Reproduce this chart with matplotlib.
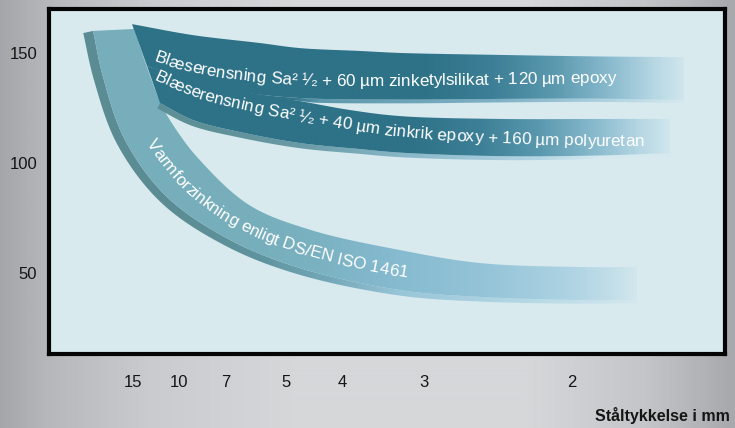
import numpy as np
import matplotlib
matplotlib.use("Agg")
import matplotlib.pyplot as plt
from matplotlib.colors import LinearSegmentedColormap
from matplotlib.patches import Polygon
from matplotlib.font_manager import FontProperties, findfont, get_font

FAMILIES = ["Liberation Sans", "DejaVu Sans"]
plt.rcParams["font.family"] = FAMILIES
DPI = 100

# ---------------------------------------------------------------- data
thickness_labels = ["15", "10", "7", "5", "4", "3", "2"]
thickness_pos = [12.47, 19.27, 26.08, 35.06, 43.39, 55.47, 77.32]
value_ticks = [50, 100, 150]

# Blæserensning + zinketylsilikat + epoxy (upper band)
epoxy_upper_x = [12.28, 21.30, 31.21, 37.13, 46.01, 51.92, 66.72, 81.51, 93.93]
epoxy_upper_y = [163.0, 158.0, 154.4, 152.1, 150.8, 149.9, 149.0, 148.3, 148.0]
epoxy_lower_x = [14.50, 20.86, 28.25, 37.13, 51.92, 66.72, 81.51, 93.93]
epoxy_lower_y = [144.0, 136.7, 132.1, 129.4, 128.7, 129.0, 129.1, 128.5]

# Blæserensning + zinkrik epoxy + polyuretan (middle band)
pur_upper_x = [14.50, 22.34, 29.73, 37.13, 44.53, 51.92, 66.72, 81.51, 91.86]
pur_upper_y = [144.0, 135.8, 131.7, 128.0, 123.95, 121.2, 119.9, 119.9, 119.9]
pur_lower_x = [16.42, 21.30, 28.25, 37.13, 46.01, 51.92, 66.72, 81.51, 91.86]
pur_lower_y = [127.1, 119.4, 113.95, 108.95, 106.2, 104.6, 103.0, 103.3, 104.4]

# Varmforzinkning (lower band)
zinc_upper_x = [12.57, 14.64, 16.57, 18.64, 22.04, 29.59, 38.76, 51.92, 63.76, 78.55, 86.98]
zinc_upper_y = [160.8, 142.1, 126.7, 115.8, 102.1, 80.8, 69.4, 60.3, 54.4, 52.6, 52.6]
zinc_lower_x = [6.51, 7.99, 11.24, 17.46, 26.78, 37.13, 51.92, 63.76, 78.55, 86.98]
zinc_lower_y = [159.9, 138.95, 110.3, 84.4, 64.9, 52.1, 42.1, 39.0, 37.6, 37.6]

label_epoxy = "Blæserensning Sa² ¹⁄₂ + 60 µm zinketylsilikat + 120 µm epoxy"
label_pur = "Blæserensning Sa² ¹⁄₂ + 40 µm zinkrik epoxy + 160 µm polyuretan"
label_zinc = "Varmforzinkning enligt DS/EN ISO 1461"
x_title = "Ståltykkelse i mm"

# ---------------------------------------------------------------- figure
fig = plt.figure(figsize=(7.35, 4.28), dpi=DPI)

bg_cmap = LinearSegmentedColormap.from_list(
    "bg", [(0.0, "#a5a6aa"), (0.06, "#b6b7bb"), (0.2, "#cacbce"), (0.4, "#d6d7d9"),
           (0.72, "#d6d7d9"), (0.88, "#c4c5c8"), (1.0, "#a8a9ad")])
bg_ax = fig.add_axes([0, 0, 1, 1], zorder=-10)
bg_ax.imshow(np.linspace(0, 1, 735)[None, :], cmap=bg_cmap, aspect="auto",
             extent=[0, 1, 0, 1])
bg_ax.axis("off")

ax = fig.add_axes([49 / 735, 74 / 428, 676 / 735, 345.5 / 428])
ax.set_facecolor("#d8eaee")
ax.set_xlim(0, 100)
ax.set_ylim(13.05, 170.1)
ax.set_autoscale_on(False)
for sp in ax.spines.values():
    sp.set_linewidth(3.0)
    sp.set_color("#050505")

ax.set_yticks(value_ticks)
ax.set_yticklabels([str(v) for v in value_ticks])
ax.set_xticks(thickness_pos)
ax.set_xticklabels(thickness_labels)
ax.tick_params(axis="y", length=0, pad=8.6, labelsize=12, labelcolor="#151515")
ax.tick_params(axis="x", length=0, pad=15, labelsize=12, labelcolor="#151515")

fig.text(730 / 735, 1 - 415 / 428, x_title, ha="right", va="center",
         fontsize=11.5, fontweight="bold", color="#151515")


# ---------------------------------------------------------------- helpers
def catmull(points, per_seg=40):
    P = np.asarray(points, float)
    ext = np.vstack([2 * P[0] - P[1], P, 2 * P[-1] - P[-2]])
    out = []
    for i in range(len(P) - 1):
        p0, p1, p2, p3 = ext[i], ext[i + 1], ext[i + 2], ext[i + 3]
        t0 = 0.0
        t1 = t0 + np.linalg.norm(p1 - p0) ** 0.5
        t2 = t1 + np.linalg.norm(p2 - p1) ** 0.5
        t3 = t2 + np.linalg.norm(p3 - p2) ** 0.5
        t = np.linspace(t1, t2, per_seg, endpoint=False)[:, None]
        A1 = (t1 - t) / (t1 - t0) * p0 + (t - t0) / (t1 - t0) * p1
        A2 = (t2 - t) / (t2 - t1) * p1 + (t - t1) / (t2 - t1) * p2
        A3 = (t3 - t) / (t3 - t2) * p2 + (t - t2) / (t3 - t2) * p3
        B1 = (t2 - t) / (t2 - t0) * A1 + (t - t0) / (t2 - t0) * A2
        B2 = (t3 - t) / (t3 - t1) * A2 + (t - t1) / (t3 - t1) * A3
        out.append((t2 - t) / (t2 - t1) * B1 + (t - t1) / (t2 - t1) * B2)
    out.append(P[-1:])
    return np.vstack(out)


def resample(curve, n=500):
    seg = np.hypot(*np.diff(curve, axis=0).T)
    s = np.concatenate([[0], np.cumsum(seg)])
    u = np.linspace(0, s[-1], n)
    return np.column_stack([np.interp(u, s, curve[:, 0]), np.interp(u, s, curve[:, 1])])


def to_px(x, y):
    return ax.transData.transform(np.column_stack([x, y]))


def to_data(pts):
    return ax.transData.inverted().transform(pts)


def edge(x, y):
    return resample(catmull(to_px(x, y)))


def offset_outward(curve, knots, widths):
    d = np.gradient(curve, axis=0)
    d /= np.hypot(d[:, 0], d[:, 1])[:, None]
    normal = np.column_stack([d[:, 1], -d[:, 0]])
    t = np.linspace(0, 1, len(curve))
    thick = np.interp(t, knots, widths)[:, None]
    return curve + normal * thick


def gradient_fill(outline_px, stops, z):
    poly = Polygon(to_data(outline_px), closed=True, facecolor="none",
                   edgecolor="none")
    ax.add_patch(poly)
    pts = [(x / 100.0, c) for x, c in stops]
    if pts[0][0] > 0:
        pts.insert(0, (0.0, pts[0][1]))
    if pts[-1][0] < 1:
        pts.append((1.0, pts[-1][1]))
    cmap = LinearSegmentedColormap.from_list("g", pts)
    y0, y1 = ax.get_ylim()
    im = ax.imshow(np.linspace(0, 1, 1024)[None, :], extent=[0, 100, y0, y1],
                   cmap=cmap, aspect="auto", interpolation="bilinear", zorder=z)
    im.set_clip_path(poly)


def advances(text, size):
    fonts = [get_font(findfont(FontProperties(family=f))) for f in FAMILIES]
    out = []
    for ch in text:
        font = next((f for f in fonts if f.get_char_index(ord(ch))), fonts[-1])
        font.set_size(size, DPI)
        g = font.load_char(ord(ch))
        out.append(g.linearHoriAdvance / 65536.0)
    return np.array(out)


def text_on_band(up, lo, f0, f1, start, label, size, z):
    t = np.linspace(0, 1, len(up))[:, None]
    base = up + (lo - up) * (f0 + (f1 - f0) * t)
    seg = np.hypot(*np.diff(base, axis=0).T)
    s = np.concatenate([[0], np.cumsum(seg)])
    adv = advances(label, size)
    left = start + np.concatenate([[0], np.cumsum(adv)[:-1]])
    for ch, c in zip(label, left + adv / 2):
        if ch == " ":
            continue
        xa, ya = np.interp(c - 2, s, base[:, 0]), np.interp(c - 2, s, base[:, 1])
        xb, yb = np.interp(c + 2, s, base[:, 0]), np.interp(c + 2, s, base[:, 1])
        xc, yc = np.interp(c, s, base[:, 0]), np.interp(c, s, base[:, 1])
        ang = np.degrees(np.arctan2(yb - ya, xb - xa))
        xd, yd = to_data([[xc, yc]])[0]
        ax.text(xd, yd, ch, rotation=ang, rotation_mode="anchor", ha="center",
                va="baseline", fontsize=size, color="white", zorder=z,
                family=FAMILIES)


# ---------------------------------------------------------------- bands
TEXT_SIZE = 12.3
DARK = "#2e7287"

# lower band: hot-dip galvanising
z_up, z_lo = edge(zinc_upper_x, zinc_upper_y), edge(zinc_lower_x, zinc_lower_y)
z_side = offset_outward(z_lo, [0, 1], [10, 3])
gradient_fill(np.vstack([z_lo, z_side[::-1]]),
              [(17.9, "#5b8c93"), (31.2, "#5f949e"), (41.6, "#74a8b9"),
               (51.9, "#98c5d8"), (69.7, "#b3d7e5"), (87.0, "#d4e8ee")], 2)
gradient_fill(np.vstack([z_up, z_lo[::-1]]),
              [(29.7, "#77aebb"), (40.1, "#7bb2c2"), (51.9, "#86bbd0"),
               (63.8, "#94c3d7"), (75.6, "#aad1e2"), (83.0, "#c0dde8"),
               (87.4, "#d4e8ee")], 3)
text_on_band(z_up, z_lo, 0.66, 0.66, 120, label_zinc, TEXT_SIZE, 4)

# middle band
p_up, p_lo = edge(pur_upper_x, pur_upper_y), edge(pur_lower_x, pur_lower_y)
p_side = offset_outward(p_lo, [0, 1], [6, 3])
gradient_fill(np.vstack([p_lo, p_side[::-1]]),
              [(22.3, "#5d8f97"), (37.1, "#6a9aa6"), (54.9, "#8dbbcd"),
               (72.6, "#b4d6e4"), (81.5, "#d5e9ef")], 5)
end_p = pur_upper_x[-1]
gradient_fill(np.vstack([p_up, p_lo[::-1]]),
              [(end_p - 38.5, DARK), (end_p - 28.2, "#3c7f96"),
               (end_p - 19.3, "#5a98ae"), (end_p - 10.4, "#8cbccf"),
               (end_p - 4.5, "#b5d6e3"), (end_p + 0.9, "#d5e9ef")], 6)

# upper band
e_up, e_lo = edge(epoxy_upper_x, epoxy_upper_y), edge(epoxy_lower_x, epoxy_lower_y)
e_side = offset_outward(e_lo, [0, 0.2, 0.32, 1], [0, 0, 4, 3])
gradient_fill(np.vstack([e_lo, e_side[::-1]]),
              [(35.7, DARK), (40.1, "#5d98ad"), (66.7, "#7fb1c6"),
               (84.5, "#b5d6e3"), (93.9, "#d5e9ef")], 7)
end_e = epoxy_upper_x[-1]
gradient_fill(np.vstack([e_up, e_lo[::-1]]),
              [(end_e - 38.5, DARK), (end_e - 28.2, "#3c7f96"),
               (end_e - 19.3, "#5a98ae"), (end_e - 10.4, "#8cbccf"),
               (end_e - 4.5, "#b5d6e3"), (end_e + 0.9, "#d5e9ef")], 8)

text_on_band(e_up, e_lo, 0.8, 0.6, 10, label_epoxy, TEXT_SIZE, 9)
text_on_band(p_up, p_lo, 0.35, 0.8, 2, label_pur, TEXT_SIZE, 9)

ax.set_xlim(0, 100)
ax.set_ylim(13.05, 170.1)

fig.savefig("out.png", dpi=DPI)
